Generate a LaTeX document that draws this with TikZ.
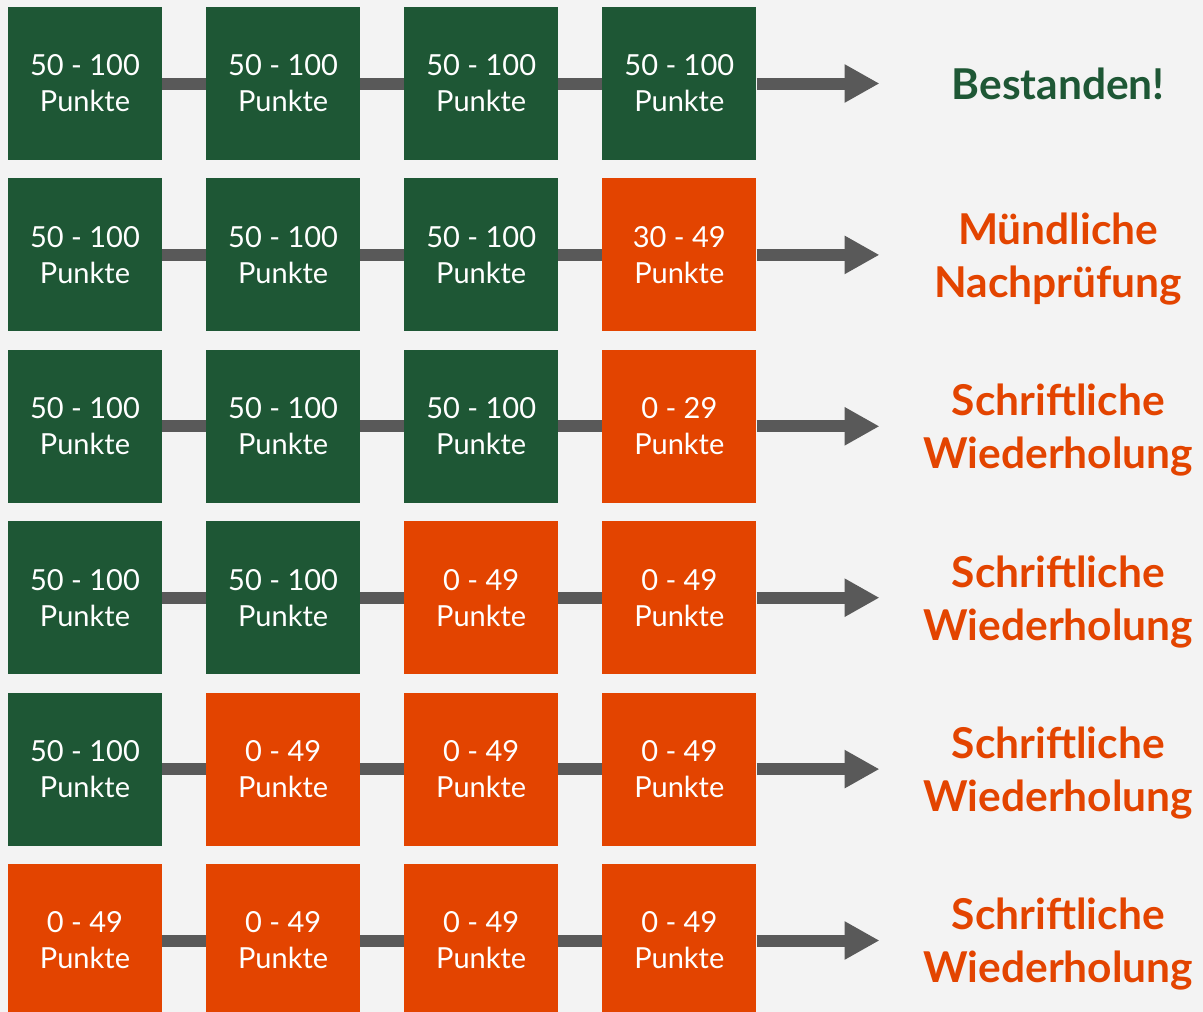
\documentclass[tikz,border=0pt]{standalone}
\usepackage{fontspec}
\setmainfont{Lato}
\usetikzlibrary{positioning}
\usetikzlibrary{arrows.meta}
\definecolor{pgreen}{HTML}{1E5735}
\definecolor{porange}{HTML}{E34400}
\definecolor{pgrey}{HTML}{595959}
\definecolor{pbg}{HTML}{F3F3F3}

\begin{document}
\begin{tikzpicture}[G/.style={fill=pgreen, text=white, rectangle, minimum width=154pt, minimum height=153pt, inner sep=0pt, align=center, font=\fontsize{29}{36}\selectfont},
    O/.style={G, fill=porange},
    R/.style={text width=286pt, align=center, inner sep=0pt, font=\fontsize{42.5}{53}\selectfont\bfseries},
    W/.style={R, text=porange, yshift=-4pt},
    L/.style={pgrey, line width=12pt},
    A/.style={L, -{Triangle[length=35pt, width=36pt]}},
    node distance=18pt and 43.7pt]
    \fill[pbg] (0,0) rectangle (1203pt,-1012pt);
    \useasboundingbox (0,0) rectangle (1203pt,-1012pt);

    % row 1
    \node[G] (b11) at (85pt,-83.5pt) {50 - 100\\Punkte};
    \node[G] (b12) [right=of b11] {50 - 100\\Punkte};
    \node[G] (b13) [right=of b12] {50 - 100\\Punkte};
    \node[G] (b14) [right=of b13] {50 - 100\\Punkte};
    \coordinate[right=123pt of b14] (e1);
    \node[R, text=pgreen] (r1) [right=158.5pt of b14] {Bestanden!};

    % row 2
    \node[G] (b21) [below=of b11] {50 - 100\\Punkte};
    \node[G] (b22) [right=of b21] {50 - 100\\Punkte};
    \node[G] (b23) [right=of b22] {50 - 100\\Punkte};
    \node[O] (b24) [right=of b23] {30 - 49\\Punkte};
    \coordinate[right=123pt of b24] (e2);
    \node[W] (r2) [right=158.5pt of b24] {Mündliche\\Nachprüfung};

    % row 3
    \node[G] (b31) [below=of b21] {50 - 100\\Punkte};
    \node[G] (b32) [right=of b31] {50 - 100\\Punkte};
    \node[G] (b33) [right=of b32] {50 - 100\\Punkte};
    \node[O] (b34) [right=of b33] {0 - 29\\Punkte};
    \coordinate[right=123pt of b34] (e3);
    \node[W] (r3) [right=158.5pt of b34] {Schriftliche\\Wiederholung};

    % row 4
    \node[G] (b41) [below=of b31] {50 - 100\\Punkte};
    \node[G] (b42) [right=of b41] {50 - 100\\Punkte};
    \node[O] (b43) [right=of b42] {0 - 49\\Punkte};
    \node[O] (b44) [right=of b43] {0 - 49\\Punkte};
    \coordinate[right=123pt of b44] (e4);
    \node[W] (r4) [right=158.5pt of b44] {Schriftliche\\Wiederholung};

    % row 5
    \node[G] (b51) [below=of b41] {50 - 100\\Punkte};
    \node[O] (b52) [right=of b51] {0 - 49\\Punkte};
    \node[O] (b53) [right=of b52] {0 - 49\\Punkte};
    \node[O] (b54) [right=of b53] {0 - 49\\Punkte};
    \coordinate[right=123pt of b54] (e5);
    \node[W] (r5) [right=158.5pt of b54] {Schriftliche\\Wiederholung};

    % row 6
    \node[O] (b61) [below=of b51] {0 - 49\\Punkte};
    \node[O] (b62) [right=of b61] {0 - 49\\Punkte};
    \node[O] (b63) [right=of b62] {0 - 49\\Punkte};
    \node[O] (b64) [right=of b63] {0 - 49\\Punkte};
    \coordinate[right=123pt of b64] (e6);
    \node[W] (r6) [right=158.5pt of b64] {Schriftliche\\Wiederholung};

    \draw[L] (b11) -- (b12);
    \draw[L] (b12) -- (b13);
    \draw[L] (b13) -- (b14);
    \draw[A] (b14) -- (e1);
    \draw[L] (b21) -- (b22);
    \draw[L] (b22) -- (b23);
    \draw[L] (b23) -- (b24);
    \draw[A] (b24) -- (e2);
    \draw[L] (b31) -- (b32);
    \draw[L] (b32) -- (b33);
    \draw[L] (b33) -- (b34);
    \draw[A] (b34) -- (e3);
    \draw[L] (b41) -- (b42);
    \draw[L] (b42) -- (b43);
    \draw[L] (b43) -- (b44);
    \draw[A] (b44) -- (e4);
    \draw[L] (b51) -- (b52);
    \draw[L] (b52) -- (b53);
    \draw[L] (b53) -- (b54);
    \draw[A] (b54) -- (e5);
    \draw[L] (b61) -- (b62);
    \draw[L] (b62) -- (b63);
    \draw[L] (b63) -- (b64);
    \draw[A] (b64) -- (e6);
\end{tikzpicture}
\end{document}
